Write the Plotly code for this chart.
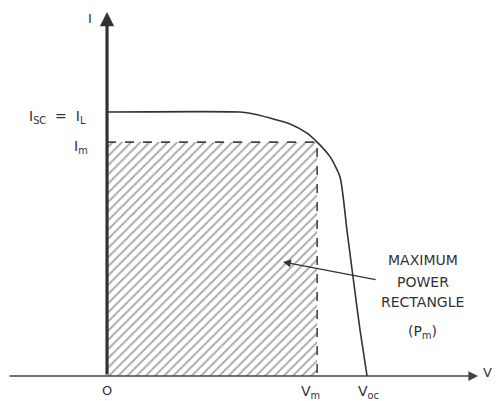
import plotly.graph_objects as go

# I-V curve of a solar cell (normalised units, Voc = 1, Isc = 1)
curve_v = [0.0, 0.5115, 0.55, 0.627, 0.704, 0.769, 0.808, 0.858, 0.896, 0.923, 0.946, 0.973, 1.0]
curve_i = [1.0, 1.0, 0.995, 0.977, 0.955, 0.920, 0.886, 0.830, 0.754, 0.549, 0.375, 0.174, 0.0]

V_m = 0.808
V_oc = 1.0
I_m = 0.886
I_sc = 1.0

# page body has an 8px margin, so the figure is sized/ranged to compensate
x_range = [-0.3808, 1.515]
y_range = [-0.0947, 1.394]

fig = go.Figure()

# hatched maximum power rectangle
fig.add_trace(go.Scatter(
    x=[0, V_m, V_m, 0, 0], y=[0, 0, I_m, I_m, 0],
    mode="lines", line=dict(width=0), fill="toself", fillcolor="rgba(255,255,255,0)",
    fillpattern=dict(shape="/", size=6.5, solidity=0.3, fgcolor="#555555", bgcolor="white"),
    hoverinfo="skip", showlegend=False))

# dashed rectangle borders
fig.add_trace(go.Scatter(
    x=[0, V_m, V_m], y=[I_m, I_m, 0], mode="lines",
    line=dict(color="#444444", width=1.6, dash="dash"),
    hoverinfo="skip", showlegend=False))

# I-V curve
fig.add_trace(go.Scatter(
    x=curve_v, y=curve_i, mode="lines",
    line=dict(color="#333333", width=1.6, shape="spline", smoothing=0.6),
    hoverinfo="skip", showlegend=False))

ann = []
# axes as arrows
ann.append(dict(x=0, y=1.379, ax=0, ay=0, xref="x", yref="y", axref="x", ayref="y",
                showarrow=True, arrowhead=2, arrowsize=0.9, arrowwidth=3.2, arrowcolor="#333333", text=""))
ann.append(dict(x=1.427, y=0, ax=x_range[0], ay=0, xref="x", yref="y", axref="x", ayref="y",
                showarrow=True, arrowhead=2, arrowsize=1.3, arrowwidth=1.5, arrowcolor="#444444", text=""))
# pointer arrow into rectangle
ann.append(dict(x=0.677, y=0.432, ax=1.0385, ay=0.3636, xref="x", yref="y", axref="x", ayref="y",
                showarrow=True, arrowhead=2, arrowsize=1.2, arrowwidth=1.3, arrowcolor="#333333", text=""))

def lab(x, y, text, xanchor="center", yanchor="middle", size=14):
    ann.append(dict(x=x, y=y, xref="x", yref="y", text=text, showarrow=False,
                    xanchor=xanchor, yanchor=yanchor,
                    font=dict(family="DejaVu Sans", size=size, color="#333333")))

lab(-0.065, 1.356, "I", size=13)
lab(-0.075, I_sc - 0.02, "I<sub>SC</sub>  =  I<sub>L</sub>", xanchor="right")
lab(-0.065, I_m - 0.02, "I<sub>m</sub>", xanchor="right")
lab(0.0, -0.055, "O", size=13)
lab(V_m - 0.025, -0.062, "V<sub>m</sub>")
lab(V_oc + 0.005, -0.062, "V<sub>oc</sub>")
lab(1.462, 0.015, "V", size=13)

lab(1.215, 0.440, "MAXIMUM")
lab(1.215, 0.356, "POWER")
lab(1.215, 0.280, "RECTANGLE")
lab(1.215, 0.165, "(P<sub>m</sub>)")

fig.update_layout(
    width=493, height=393,
    margin=dict(l=0, r=0, t=0, b=0),
    paper_bgcolor="white", plot_bgcolor="white",
    xaxis=dict(range=x_range, visible=False, fixedrange=True),
    yaxis=dict(range=y_range, visible=False, fixedrange=True),
    annotations=ann,
    showlegend=False,
)

fig.write_html("out.html")
